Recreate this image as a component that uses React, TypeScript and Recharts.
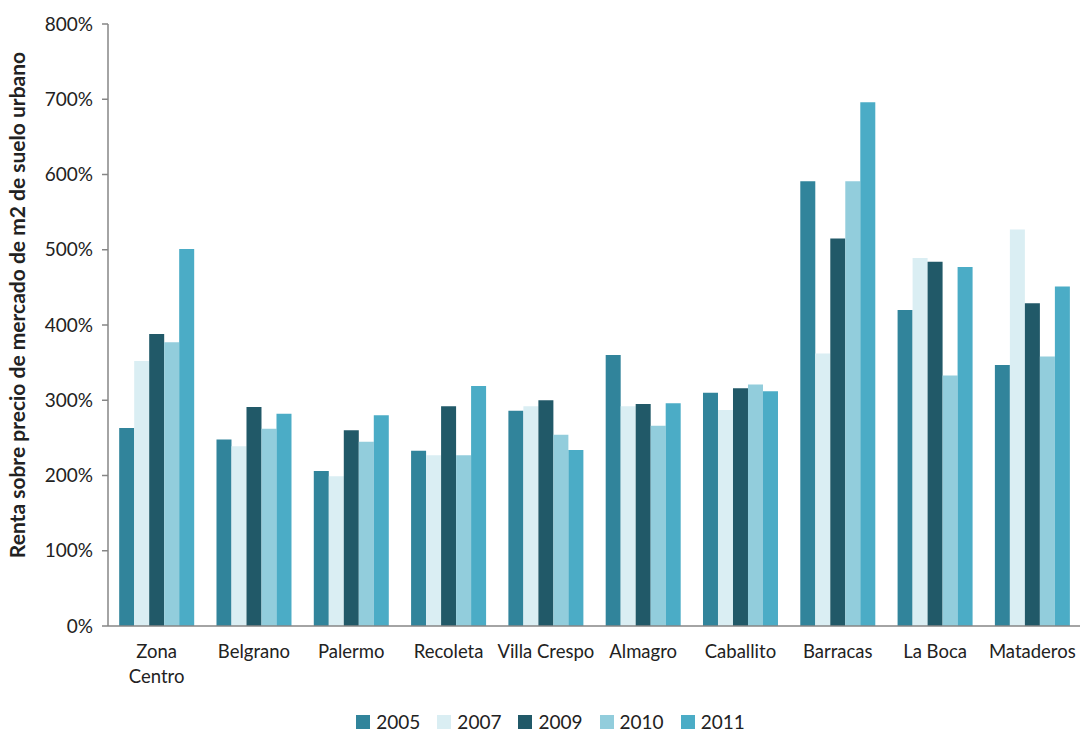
import React from 'react'
import { Bar, BarChart, Legend, XAxis, YAxis, Text } from 'recharts'

// barrios, in the order the source chart reads them; "\n" marks the wrap Excel made
const barrios = [
  'Zona\nCentro',
  'Belgrano',
  'Palermo',
  'Recoleta',
  'Villa Crespo',
  'Almagro',
  'Caballito',
  'Barracas',
  'La Boca',
  'Mataderos',
]

// rent over market price of urban land, in percent
const y2005 = [263, 248, 206, 233, 286, 360, 310, 591, 420, 347]
const y2007 = [352, 239, 199, 227, 292, 292, 287, 362, 489, 527]
const y2009 = [388, 291, 260, 292, 300, 295, 316, 515, 484, 429]
const y2010 = [377, 262, 245, 227, 254, 266, 321, 591, 333, 358]
const y2011 = [501, 282, 280, 319, 234, 296, 312, 696, 477, 451]

const yTicks = [0, 100, 200, 300, 400, 500, 600, 700, 800]
const boundaries = [0, 1, 2, 3, 4, 5, 6, 7, 8, 9, 10]

const series = [
  { key: 'y2005', name: '2005', color: '#31849B' },
  { key: 'y2007', name: '2007', color: '#DAEEF3' },
  { key: 'y2009', name: '2009', color: '#215968' },
  { key: 'y2010', name: '2010', color: '#92CDDC' },
  { key: 'y2011', name: '2011', color: '#4BACC6' },
]

const data = barrios.map((b, i) => ({
  barrio: b,
  y2005: y2005[i],
  y2007: y2007[i],
  y2009: y2009[i],
  y2010: y2010[i],
  y2011: y2011[i],
}))

const FONT = 'Lato, "Open Sans", sans-serif'
const AXIS = '#868686'
const INK = '#222'

function BarrioTick({ x, y, payload }: any) {
  const lines = String(payload.value).split('\n')
  return (
    <g>
      {lines.map((l, i) => (
        <Text
          key={i}
          x={x}
          y={y + 11 + i * 25}
          textAnchor="middle"
          verticalAnchor="start"
          style={{ fontFamily: FONT, fontSize: 18.5, fill: INK }}
        >
          {l}
        </Text>
      ))}
    </g>
  )
}

function YearLegend() {
  return (
    <div
      style={{
        display: 'flex',
        justifyContent: 'center',
        gap: 17,
        paddingTop: 9,
        paddingLeft: 12,
        fontFamily: FONT,
        fontSize: 19,
        color: INK,
      }}
    >
      {series.map((s) => (
        <div key={s.key} style={{ display: 'flex', alignItems: 'center', gap: 6 }}>
          <span style={{ width: 14, height: 14, background: s.color, display: 'inline-block' }} />
          <span>{s.name}</span>
        </div>
      ))}
    </div>
  )
}

export default function App() {
  return (
    <div style={{ position: 'absolute', left: 0, top: 0, background: '#fff' }}>
      <BarChart
        width={1081}
        height={731}
        data={data}
        margin={{ top: 24, right: 0, bottom: 0, left: 8 }}
        barCategoryGap="11.5%"
        barGap={0}
      >
        <XAxis
          dataKey="barrio"
          interval={0}
          height={75}
          tickLine={false}
          axisLine={{ stroke: AXIS, strokeWidth: 1.5 }}
          tick={<BarrioTick />}
        />
        {/* the tick marks sit between barrios, not under them */}
        <XAxis
          xAxisId="edges"
          type="number"
          domain={[0, 10]}
          ticks={boundaries}
          axisLine={false}
          tick={false}
          tickSize={7}
          tickLine={{ stroke: AXIS, strokeWidth: 1.5 }}
          height={0}
          allowDataOverflow
        />
        <YAxis
          width={100}
          domain={[0, 800]}
          ticks={yTicks}
          interval={0}
          tickFormatter={(v) => `${v}%`}
          tick={{ fontFamily: FONT, fontSize: 19, fill: INK, dx: -7 }}
          tickSize={6}
          tickLine={{ stroke: AXIS, strokeWidth: 1.5 }}
          axisLine={{ stroke: AXIS, strokeWidth: 1.5 }}
          label={{
            value: 'Renta sobre precio de mercado de m2 de suelo urbano',
            angle: -90,
            position: 'insideLeft',
            offset: 10,
            dy: -20,
            style: { fontFamily: FONT, fontSize: 21, fontWeight: 700, fill: INK, textAnchor: 'middle' },
          }}
        />
        <Legend verticalAlign="bottom" height={30} content={<YearLegend />} />
        {series.map((s) => (
          <Bar key={s.key} dataKey={s.key} name={s.name} fill={s.color} isAnimationActive={false} />
        ))}
      </BarChart>
    </div>
  )
}
